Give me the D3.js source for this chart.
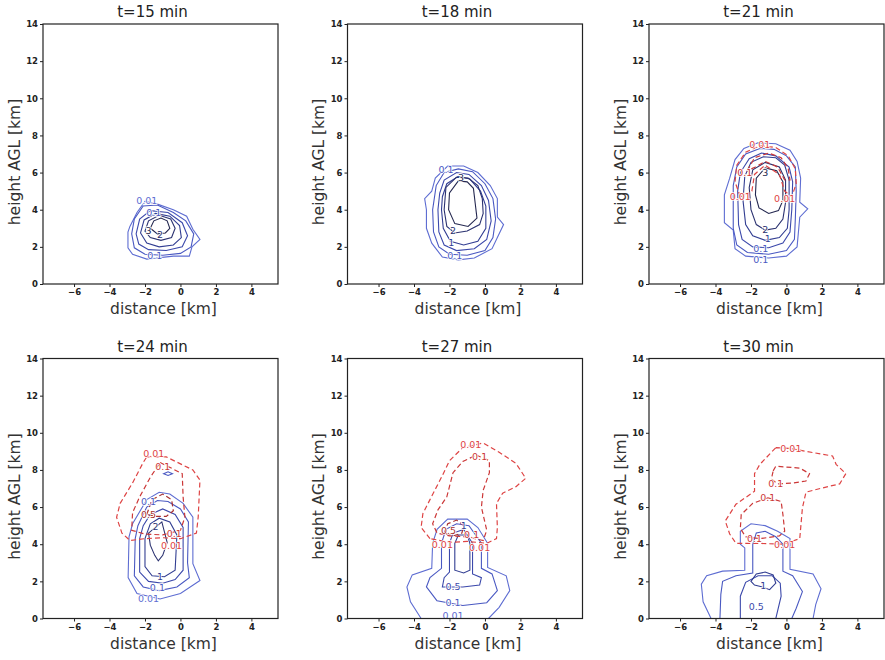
<!DOCTYPE html>
<html>
<head>
<meta charset="utf-8">
<script src="https://cdn.jsdelivr.net/npm/d3@7"></script>
<style>
  body { margin: 0; background: #fff; }
  svg { display: block; }
</style>
</head>
<body>
<div id="chart"></div>
<script>
// ---- data (km) ----
const titles = ['t=15 min', 't=18 min', 't=21 min', 't=24 min', 't=27 min', 't=30 min'];
const xTicks = [-6, -4, -2, 0, 2, 4];
const yTicks = [0, 2, 4, 6, 8, 10, 12, 14];
const xDomain = [-7.75, 5.5];
const yDomain = [0, 14];

// each contour: [level, [[x, y], ...]]  blue = solid, red = dashed
const t15Blue = [
  [0.01, [[-2.0,4.45],[-1.3,4.3],[-0.4,4.0],[0.35,3.65],[0.7,2.95],[1.1,2.4],[0.65,2.0],[0.5,1.5],[-0.4,1.5],[-1.9,1.34],[-2.7,1.6],[-2.96,1.95],[-2.96,2.8],[-2.85,3.1],[-2.45,3.85]]],
  [0.1, [[-2.75,2.7],[-2.6,3.5],[-2.1,4.2],[-1.3,4.25],[-0.4,3.85],[0.3,3.4],[0.75,2.7],[0.6,2.0],[0.0,1.65],[-1.0,1.55],[-2.0,1.6],[-2.6,1.95]]],
  [0.5, [[-2.5,2.7],[-2.3,3.5],[-1.7,3.95],[-0.7,3.85],[0.1,3.3],[0.4,2.6],[0.1,2.0],[-0.8,1.8],[-1.8,1.85],[-2.35,2.15]]],
  [1, [[-2.25,2.75],[-2.05,3.45],[-1.4,3.8],[-0.6,3.65],[-0.05,3.15],[0.05,2.5],[-0.4,2.1],[-1.2,2.0],[-1.9,2.2]]],
  [2, [[-2.0,2.85],[-1.8,3.4],[-1.2,3.7],[-0.55,3.5],[-0.3,3.0],[-0.5,2.5],[-1.1,2.35],[-1.7,2.5]]],
  [3, [[-1.7,3.0],[-1.5,3.4],[-1.1,3.55],[-0.75,3.4],[-0.6,3.0],[-0.85,2.75],[-1.3,2.7]]]
];
const t15Red = [];
const t15Labels = [['0.01',-1.9,4.5,'b',0.01],['0.1',-1.5,3.85,'b',0.1],['3',-1.8,2.85,'b',3],['2',-1.15,2.65,'b',2],['0.1',-1.45,1.5,'b',0.1]];

const t18Blue = [
  [0.01, [[-3.3,4.0],[-3.3,3.0],[-3.0,2.2],[-2.4,1.45],[-1.5,1.3],[-0.6,1.4],[0.4,1.9],[0.7,2.5],[1.05,3.2],[0.7,3.6],[0.7,4.6],[0.3,5.3],[-0.4,6.0],[-1.2,6.35],[-2.1,6.35],[-2.8,5.7],[-3.0,5.0],[-3.4,4.6]]],
  [0.1, [[-2.95,4.0],[-2.9,2.8],[-2.6,2.0],[-2.0,1.6],[-1.0,1.55],[0.0,1.8],[0.45,2.5],[0.6,3.5],[0.45,4.6],[0.0,5.4],[-0.7,6.05],[-1.5,6.2],[-2.3,6.0],[-2.75,5.3]]],
  [0.5, [[-2.65,4.0],[-2.6,2.8],[-2.3,2.1],[-1.6,1.8],[-0.6,1.9],[0.1,2.4],[0.35,3.4],[0.2,4.5],[-0.2,5.3],[-0.9,5.9],[-1.6,6.0],[-2.3,5.6],[-2.55,4.9]]],
  [1, [[-2.45,4.0],[-2.35,3.0],[-1.95,2.3],[-1.2,2.1],[-0.4,2.3],[0.05,3.0],[0.05,4.2],[-0.25,5.0],[-0.85,5.65],[-1.5,5.8],[-2.15,5.4],[-2.4,4.7]]],
  [2, [[-1.6,5.75],[-2.2,5.2],[-2.3,4.0],[-2.15,3.1],[-1.7,2.75],[-1.0,2.85],[-0.3,3.2],[-0.1,3.8],[-0.15,4.6],[-0.4,5.3],[-0.95,5.7]]],
  [3, [[-1.5,5.55],[-2.0,4.9],[-2.05,4.0],[-1.7,3.25],[-0.95,3.1],[-0.45,3.55],[-0.55,4.35],[-0.65,5.15],[-1.0,5.5]]]
];
const t18Red = [];
const t18Labels = [['0.1',-2.2,6.15,'b',0.1],['3',-1.35,5.7,'b',3],['2',-1.8,2.85,'b',2],['1',-1.9,2.2,'b',1],['0.1',-1.7,1.55,'b',0.1]];

const t21Blue = [
  [0.01, [[-1.6,7.6],[-2.4,7.3],[-2.9,6.7],[-3.2,5.7],[-3.5,4.8],[-3.5,3.3],[-3.0,2.9],[-2.9,1.9],[-2.3,1.5],[-1.0,1.4],[0.0,1.5],[0.6,2.0],[0.75,3.6],[1.2,4.05],[0.75,4.4],[0.8,5.7],[0.6,6.6],[0.2,7.2],[-0.6,7.55]]],
  [0.1, [[-1.5,7.3],[-2.3,7.0],[-2.8,6.3],[-3.0,5.3],[-3.0,3.0],[-2.8,2.1],[-2.2,1.7],[-1.0,1.6],[0.0,1.8],[0.45,2.4],[0.5,3.5],[0.55,5.0],[0.5,6.3],[0.0,6.9],[-0.7,7.25]]],
  [0.5, [[-1.4,7.05],[-2.1,6.75],[-2.6,6.0],[-2.75,5.0],[-2.7,3.2],[-2.5,2.4],[-1.9,2.0],[-1.0,1.95],[-0.2,2.2],[0.2,2.8],[0.3,4.0],[0.35,5.5],[0.15,6.3],[-0.6,6.9]]],
  [1, [[-1.3,6.85],[-2.0,6.55],[-2.35,5.8],[-2.45,4.5],[-2.3,3.2],[-1.9,2.6],[-1.2,2.35],[-0.4,2.5],[0.05,3.0],[0.15,4.0],[0.15,5.6],[-0.1,6.4],[-0.6,6.8]]],
  [2, [[-1.2,6.55],[-1.9,6.15],[-2.1,5.2],[-2.0,4.0],[-1.7,3.2],[-1.2,2.9],[-0.6,3.0],[-0.2,3.5],[-0.05,4.4],[-0.05,5.6],[-0.4,6.3]]],
  [3, [[-1.2,6.25],[-1.7,5.7],[-1.75,4.8],[-1.55,4.1],[-1.0,3.8],[-0.45,3.95],[-0.2,4.5],[-0.2,5.5],[-0.55,6.1]]]
];
const t21Red = [
  [0.01, [[-2.6,4.7],[-2.9,5.5],[-2.8,6.4],[-2.3,7.1],[-1.5,7.45],[-0.6,7.35],[0.1,6.9],[0.5,6.2],[0.55,5.4],[0.3,4.7],[-0.1,5.0],[-0.4,5.9],[-1.2,6.4],[-1.8,5.9],[-1.95,5.0]]],
  [0.1, [[-2.2,6.1],[-1.8,6.8],[-1.0,7.05],[-0.3,6.8],[0.1,6.2],[0.2,5.6],[-0.1,5.6],[-0.5,6.3],[-1.2,6.6],[-1.75,6.3]]]
];
const t21Labels = [['0.01',-1.5,7.5,'r',0.01],['0.1',-2.35,6.0,'r',0.1],['3',-1.2,6.0,'b',3],['0.01',-2.6,4.7,'r',0.01],['0.01',-0.1,4.6,'r',0.01],['2',-1.2,2.95,'b',2],['1',-1.05,2.45,'b',1],['0.1',-1.45,1.9,'b',0.1],['0.1',-1.45,1.3,'b',0.1]];

const t24Blue = [
  [0.01, [[-2.9,4.4],[-2.95,2.2],[-2.45,1.35],[-1.15,1.05],[0.0,1.35],[1.1,2.05],[0.7,2.95],[0.7,5.45],[0.15,6.2],[-0.6,6.7],[-1.2,6.8],[-1.9,6.4],[-2.7,5.1]]],
  [0.1, [[-2.55,4.3],[-2.6,2.3],[-2.1,1.7],[-1.2,1.5],[-0.2,1.7],[0.5,2.2],[0.4,3.0],[0.45,5.2],[0.0,5.9],[-0.7,6.3],[-1.3,6.35],[-1.9,6.0],[-2.4,5.0]]],
  [0.5, [[-2.3,4.3],[-2.3,2.5],[-1.8,2.0],[-1.0,1.9],[-0.3,2.1],[0.15,2.6],[0.15,4.9],[-0.3,5.6],[-1.0,5.9],[-1.7,5.6],[-2.1,5.0]]],
  [1, [[-2.0,4.3],[-2.0,2.8],[-1.6,2.3],[-0.9,2.25],[-0.3,2.6],[-0.2,4.5],[-0.6,5.2],[-1.2,5.4],[-1.7,5.1]]],
  [2, [[-1.8,4.6],[-1.05,5.2],[-0.75,4.1],[-1.0,3.4],[-1.25,3.1],[-1.45,3.4],[-1.7,3.95]]],
  [0.1, [[-0.95,7.8],[-0.7,7.9],[-0.45,7.8],[-0.7,7.7]]]
];
const t24Red = [
  [0.01, [[-1.9,8.7],[-0.8,8.7],[0.7,8.0],[1.1,7.45],[1.0,5.45],[0.9,4.6],[0.0,4.3],[-1.0,4.35],[-2.0,4.3],[-2.85,4.2],[-3.3,4.6],[-3.6,5.45],[-3.4,6.2],[-2.7,7.3],[-2.1,8.4]]],
  [0.1, [[-1.15,8.4],[0.1,7.8],[0.15,6.55],[0.25,5.45],[0.0,4.75],[-1.0,4.5],[-2.0,4.55],[-2.75,4.75],[-2.7,5.7],[-2.3,6.55],[-1.7,7.6]]],
  [0.5, [[-1.9,5.6],[-1.6,6.4],[-1.0,6.7],[-0.5,6.4],[-0.4,5.8],[-0.8,5.5],[-1.4,5.5]]]
];
const t24Labels = [['0.01',-1.5,8.85,'r',0.01],['0.1',-1.0,8.2,'r',0.1],['0.1',-1.8,6.3,'b',0.1],['0.5',-1.8,5.6,'r',0.5],['2',-1.4,4.95,'b',2],['0.1',-0.35,4.55,'r',0.1],['0.01',-0.5,3.9,'r',0.01],['1',-1.15,2.25,'b',1],['0.1',-1.3,1.65,'b',0.1],['0.01',-1.8,1.05,'b',0.01]];

const t27Blue = [
  [0.01, [[-3.6,0],[-4.2,0.9],[-4.4,1.7],[-4.1,2.35],[-3.0,2.7],[-2.95,4.05],[-2.7,4.8],[-2.1,5.35],[-1.0,5.35],[-0.4,4.9],[0.15,4.05],[0.15,2.75],[1.2,2.3],[1.4,1.5],[0.8,0.6],[0.2,0]]],
  [0.1, [[-2.7,0.95],[-3.3,1.7],[-3.1,2.2],[-2.45,2.7],[-2.45,4.05],[-2.2,4.8],[-1.6,5.1],[-0.9,5.0],[-0.2,4.05],[-0.2,2.7],[0.4,2.4],[0.7,1.5],[0.1,0.85],[-1.25,0.7]]],
  [0.5, [[-2.4,1.7],[-2.3,2.2],[-2.0,2.5],[-2.0,4.05],[-1.8,4.6],[-1.2,4.8],[-0.7,4.05],[-0.7,2.4],[-0.2,2.2],[-0.3,1.8],[-1.25,1.7]]],
  [1, [[-1.7,2.6],[-1.7,4.05],[-1.5,4.5],[-1.0,4.5],[-0.85,4.05],[-0.85,2.6],[-1.2,2.45]]]
];
const t27Red = [
  [0.01, [[-3.1,4.3],[-3.6,4.9],[-3.5,5.65],[-3.1,6.4],[-2.4,7.7],[-2.0,8.5],[-1.25,9.2],[-0.1,9.45],[0.8,8.95],[1.75,8.35],[2.3,7.55],[1.75,7.1],[1.0,6.75],[0.65,6.2],[0.7,4.9],[0.65,4.3],[0.1,4.05],[-1.0,4.15],[-2.0,4.1]]],
  [0.1, [[-0.5,8.8],[0.25,8.5],[0.25,7.85],[-0.1,6.9],[-0.2,6.0],[0.1,4.75],[-0.1,4.2],[-1.0,4.4],[-2.0,4.45],[-2.7,4.6],[-2.95,5.1],[-2.65,5.85],[-2.15,6.55],[-1.8,7.85],[-1.25,8.45]]],
  [0.5, [[-2.3,4.6],[-2.1,5.1],[-1.6,5.3],[-1.2,5.0],[-1.3,4.6],[-1.8,4.45]]]
];
const t27Labels = [['0.01',-0.8,9.35,'r',0.01],['0.1',-0.3,8.7,'r',0.1],['0.5',-2.05,4.75,'r',0.5],['1',-1.2,5.0,'b',1],['0.1',-0.75,4.5,'r',0.1],['0.01',-2.4,4.0,'r',0.01],['0.01',-0.3,3.8,'r',0.01],['0.5',-1.8,1.7,'b',0.5],['0.1',-1.8,0.85,'b',0.1],['0.01',-1.8,0.15,'b',0.01]];

const t30Blue = [
  [0.01, [[-4.25,0],[-4.7,0.9],[-4.8,1.85],[-4.5,2.3],[-3.6,2.55],[-2.35,2.6],[-2.35,3.8],[-2.6,4.0],[-2.6,4.7],[-2.0,5.1],[-1.2,5.0],[-0.5,4.7],[0.2,4.3],[0.2,2.65],[1.5,2.4],[1.95,1.6],[1.65,0.75],[1.5,0]]],
  [0.1, [[-3.75,0],[-3.7,1.3],[-3.6,2.0],[-2.85,2.3],[-1.9,2.45],[-1.9,4.0],[-1.7,4.6],[-1.2,4.7],[-0.6,4.4],[-0.2,4.0],[-0.2,2.55],[0.35,2.3],[0.9,1.45],[0.55,0.55],[0.3,0]]],
  [0.5, [[-2.6,0],[-2.6,1.2],[-2.3,1.95],[-1.6,2.3],[-0.8,2.3],[-0.35,1.9],[-0.3,1.2],[-0.6,0]]],
  [1, [[-2.0,2.0],[-1.7,2.4],[-1.2,2.5],[-0.75,2.35],[-0.6,1.9],[-0.95,1.55],[-1.35,1.7],[-1.8,1.8]]]
];
const t30Red = [
  [0.01, [[-0.6,9.2],[0.25,9.15],[1.1,9.0],[2.6,8.75],[2.8,8.3],[3.35,7.8],[3.0,7.25],[1.9,7.0],[1.1,6.8],[0.9,5.95],[0.8,4.85],[0.75,4.3],[-0.2,4.0],[-1.7,4.05],[-2.85,4.05],[-3.2,4.55],[-3.45,5.25],[-2.85,6.15],[-1.8,6.85],[-1.8,7.8],[-1.5,8.3]]],
  [0.1, [[-0.75,7.95],[-0.6,8.2],[0.75,8.1],[1.3,7.8],[1.1,7.4],[0.4,7.3],[-0.5,7.25],[-0.85,7.5]]],
  [0.1, [[-1.05,6.5],[-0.3,6.3],[-0.2,5.6],[-0.1,4.7],[-0.4,4.45],[-1.5,4.3],[-2.3,4.4],[-2.6,4.85],[-2.55,5.6],[-1.9,6.2]]]
];
const t30Labels = [['0.01',0.25,9.15,'r',0.01],['0.1',-0.6,7.25,'r',0.1],['0.1',-1.05,6.5,'r',0.1],['0.1',-1.8,4.3,'r',0.1],['0.01',-0.1,4.0,'r',0.01],['1',-1.3,1.75,'b',1],['0.5',-1.7,0.65,'b',0.5]];

const blues = [t15Blue, t18Blue, t21Blue, t24Blue, t27Blue, t30Blue];
const reds = [t15Red, t18Red, t21Red, t24Red, t27Red, t30Red];
const labels = [t15Labels, t18Labels, t21Labels, t24Labels, t27Labels, t30Labels];

// ---- style ----
const blueColor = { 0.01: '#5e6dd2', 0.1: '#4a59c2', 0.5: '#3c49ab', 1: '#323e92', 2: '#2b3270', 3: '#242850' };
const redColor = { 0.01: '#de4444', 0.1: '#cc3838', 0.5: '#a83030' };

const width = 885, height = 660;
const pw = 235, ph = 260;
const colX = [43, 347.5, 649];
const rowY = [24, 358.5];

const svg = d3.select('#chart').append('svg')
  .attr('width', width)
  .attr('height', height)
  .style('font-family', '"DejaVu Sans", sans-serif');

const x = d3.scaleLinear().domain(xDomain).range([0, pw]);
const y = d3.scaleLinear().domain(yDomain).range([ph, 0]);
const line = d3.line().x(d => x(d[0])).y(d => y(d[1])).curve(d3.curveLinearClosed);

titles.forEach((title, i) => {
  const px = colX[i % 3], py = rowY[Math.floor(i / 3)];
  const g = svg.append('g').attr('transform', `translate(${px},${py})`);

  g.append('clipPath').attr('id', 'clip' + i)
    .append('rect').attr('width', pw).attr('height', ph);

  const plot = g.append('g').attr('clip-path', `url(#clip${i})`);

  plot.selectAll('path.blue')
    .data(blues[i])
    .join('path')
    .attr('class', 'blue')
    .attr('d', d => line(d[1]))
    .attr('fill', 'none')
    .attr('stroke', d => blueColor[d[0]])
    .attr('stroke-width', 1.1);

  plot.selectAll('path.red')
    .data(reds[i])
    .join('path')
    .attr('class', 'red')
    .attr('d', d => line(d[1]))
    .attr('fill', 'none')
    .attr('stroke', d => redColor[d[0]])
    .attr('stroke-width', 1.2)
    .attr('stroke-dasharray', '5,3');

  // contour labels
  plot.selectAll('text.clab')
    .data(labels[i])
    .join('text')
    .attr('class', 'clab')
    .attr('x', d => x(d[1]))
    .attr('y', d => y(d[2]))
    .attr('dy', '0.35em')
    .attr('text-anchor', 'middle')
    .attr('font-size', 9.5)
    .attr('fill', d => d[3] === 'r' ? redColor[d[4]] : blueColor[d[4]])
    .attr('stroke', '#fff')
    .attr('stroke-width', 1.5)
    .attr('paint-order', 'stroke')
    .text(d => d[0]);

  // axes
  const xAxis = g.append('g')
    .attr('transform', `translate(0,${ph})`)
    .call(d3.axisBottom(x).tickValues(xTicks).tickSize(3).tickPadding(2)
      .tickFormat(d => d < 0 ? '\u2212' + Math.abs(d) : d));
  const yAxis = g.append('g')
    .call(d3.axisLeft(y).tickValues(yTicks).tickSize(3).tickPadding(2));
  [xAxis, yAxis].forEach(a => {
    a.select('.domain').remove();
    a.selectAll('line').attr('stroke', '#222');
    a.selectAll('text')
      .attr('font-family', '"DejaVu Sans", sans-serif')
      .attr('font-size', 8.5)
      .attr('font-weight', 'bold')
      .attr('fill', '#222');
  });

  g.append('rect')
    .attr('width', pw)
    .attr('height', ph)
    .attr('fill', 'none')
    .attr('stroke', '#222')
    .attr('stroke-width', 1.2);

  g.append('text')
    .attr('x', pw / 2 - 8)
    .attr('y', -7)
    .attr('text-anchor', 'middle')
    .attr('font-size', 15)
    .attr('fill', '#222')
    .text(title);

  g.append('text')
    .attr('x', pw / 2 + 3)
    .attr('y', ph + 30)
    .attr('text-anchor', 'middle')
    .attr('font-size', 15.5)
    .attr('fill', '#333')
    .text('distance [km]');

  g.append('text')
    .attr('transform', `translate(-28.5,${ph / 2 + 8}) rotate(-90)`)
    .attr('dy', '0.35em')
    .attr('text-anchor', 'middle')
    .attr('font-size', 15.5)
    .attr('fill', '#333')
    .text('height AGL [km]');
});
</script>
</body>
</html>
